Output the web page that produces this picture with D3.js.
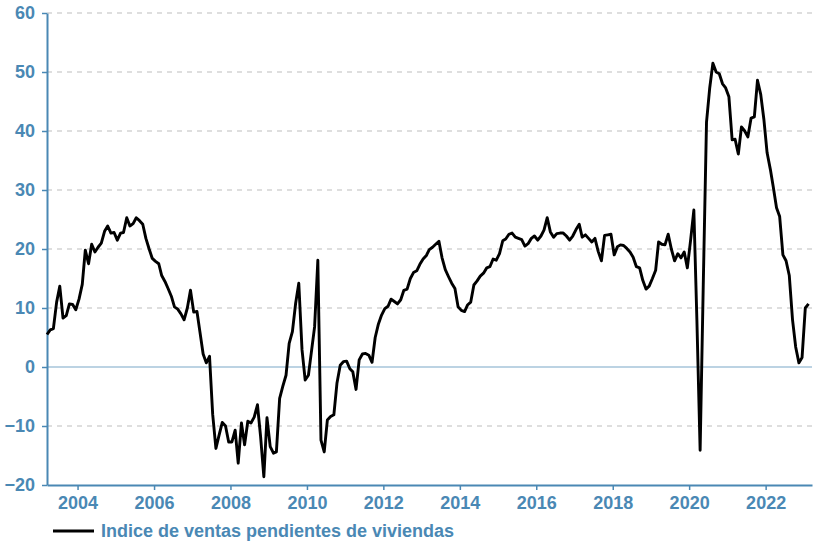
<!DOCTYPE html>
<html>
<head>
<meta charset="utf-8">
<script src="https://cdn.jsdelivr.net/npm/d3@7"></script>
<style>
  body { margin: 0; background: #fff; }
  svg { display: block; font-family: "Liberation Sans", Arial, sans-serif; }
</style>
</head>
<body>
<svg width="824" height="544"></svg>
<script>
// eerste maand van de reeks (maart 2003), daarna maandelijks
var startMonth = new Date(2003, 2, 15);

// jaar-op-jaar verandering, per maand
var values = [
  5.5, 6.3, 6.5, 11, 13.7, 8.3, 8.7, 10.7, 10.6, 9.7,                  // 2003 (mrt-dec)
  11.5, 14, 19.8, 17.5, 20.8, 19.5, 20.3, 21, 23, 23.9, 22.7, 22.8,    // 2004
  21.5, 22.7, 22.8, 25.3, 23.9, 24.3, 25.3, 24.8, 24.2, 21.8, 20, 18.4, // 2005
  17.9, 17.5, 15.5, 14.5, 13.3, 12, 10.2, 9.8, 9, 8, 10, 13,           // 2006
  9.3, 9.4, 6, 2.2, 0.7, 1.8, -8, -13.8, -11.5, -9.4, -10, -12.7,      // 2007
  -12.7, -10.7, -16.3, -9.5, -13.2, -9.2, -9.5, -8.5, -6.4, -11.8, -18.6, -8.6, // 2008
  -13.5, -14.6, -14.4, -5.3, -3.3, -1.4, 4, 6, 10.8, 14.2, 2.9, -2.2,  // 2009
  -1.4, 2.9, 6.8, 18.1, -12.4, -14.4, -9, -8.4, -8.1, -2.7, 0.3, 0.9,  // 2010
  1.0, -0.3, -0.8, -3.8, 1.2, 2.2, 2.3, 2.0, 0.8, 5, 7.3, 8.8,         // 2011
  9.9, 10.3, 11.5, 11.1, 10.7, 11.4, 13, 13.2, 15, 16, 16.3, 17.4,     // 2012
  18.3, 18.9, 19.9, 20.3, 20.8, 21.3, 18.5, 16.5, 15.3, 14.2, 13.3, 10.2, // 2013
  9.6, 9.4, 10.5, 11, 13.9, 14.6, 15.4, 15.9, 16.8, 17, 18.3, 18.1,    // 2014
  19.2, 21.4, 21.7, 22.5, 22.7, 22, 21.8, 21.6, 20.5, 20.9, 21.8, 22.2, // 2015
  21.5, 22.2, 23.2, 25.3, 22.9, 22, 22.6, 22.7, 22.7, 22.2, 21.5, 22.2, // 2016
  23.3, 24.2, 22, 22.4, 21.8, 21.2, 21.8, 19.6, 18, 22.3, 22.4, 22.5,  // 2017
  19, 20.4, 20.7, 20.6, 20.1, 19.5, 18.6, 17, 16.8, 14.7, 13.2, 13.7,  // 2018
  15, 16.4, 21.2, 20.8, 20.7, 22.5, 20, 18, 19.2, 18.5, 19.5, 16.8,    // 2019
  21.5, 26.6, 8, -14.1, 14, 41.5, 47.2, 51.5, 50, 49.7, 48, 47.3,      // 2020
  45.8, 38.5, 38.6, 36.1, 40.7, 40, 39, 42.2, 42.4, 48.6, 46.2, 42,    // 2021
  36.3, 33.5, 30.5, 27, 25.5, 19, 18, 15.5, 8, 3.4, 0.7, 1.6,          // 2022
  10, 10.7                                                            // 2023 (jan-feb)
];

var yTicks = [-20, -10, 0, 10, 20, 30, 40, 50, 60];
var xTickYears = [2004, 2006, 2008, 2010, 2012, 2014, 2016, 2018, 2020, 2022];
var legendLabel = "Indice de ventas pendientes de viviendas";

// let op: "top" is een gereserveerde globale naam, dus alles in een object
var blue = "#4a88b4",
    svg = d3.select("svg"),
    margin = { left: 47, right: 812, top: 13, bottom: 485 };

var data = values.map(function(v, i) {
  return { date: d3.timeMonth.offset(startMonth, i), value: v };
});

var x = d3.scaleTime()
    .domain([new Date(2003, 2, 15), new Date(2023, 2, 20)])
    .range([margin.left, margin.right]);
var y = d3.scaleLinear().domain([-20, 60]).range([margin.bottom, margin.top]);

// gestreepte rasterlijnen
svg.append("g")
  .selectAll("line")
  .data(yTicks.filter(function(d) { return d !== 0 && d !== -20; }))
  .enter().append("line")
    .attr("x1", margin.left).attr("x2", margin.right)
    .attr("y1", function(d) { return y(d); })
    .attr("y2", function(d) { return y(d); })
    .style("stroke", "#d4d4d4")
    .style("stroke-width", 1.3)
    .style("stroke-dasharray", "5,5");

// nullijn
svg.append("line")
  .attr("x1", margin.left).attr("x2", margin.right)
  .attr("y1", y(0)).attr("y2", y(0))
  .style("stroke", "#7aa7c7")
  .style("stroke-width", 1.2);

// y-as
var yAxis = svg.append("g")
  .attr("transform", "translate(" + margin.left + ",0)")
  .call(d3.axisLeft(y).tickValues(yTicks).tickSize(5).tickSizeOuter(0).tickPadding(7));

// x-as
var xAxis = svg.append("g")
  .attr("transform", "translate(0," + margin.bottom + ")")
  .call(d3.axisBottom(x)
    .tickValues(xTickYears.map(function(yr) { return new Date(yr, 0, 1); }))
    .tickFormat(d3.timeFormat("%Y"))
    .tickSize(5).tickSizeOuter(0).tickPadding(6));

[yAxis, xAxis].forEach(function(ax) {
  ax.select(".domain").style("stroke", blue).style("stroke-width", 2);
  ax.selectAll(".tick line").style("stroke", blue).style("stroke-width", 1.5);
  ax.selectAll(".tick text")
    .style("fill", blue)
    .style("font-size", "18px")
    .style("font-weight", "bold")
    .style("font-family", "'Liberation Sans', Arial, sans-serif");
});

// de lijn zelf
var line = d3.line()
  .x(function(d) { return x(d.date); })
  .y(function(d) { return y(d.value); });

svg.append("path")
  .datum(data)
  .attr("d", line)
  .style("fill", "none")
  .style("stroke", "#000")
  .style("stroke-width", 2.9)
  .style("stroke-linejoin", "round");

// legenda
svg.append("line")
  .attr("x1", 53).attr("x2", 94)
  .attr("y1", 531).attr("y2", 531)
  .style("stroke", "#000")
  .style("stroke-width", 3);

svg.append("text")
  .attr("x", 101)
  .attr("y", 537)
  .style("fill", blue)
  .style("font-size", "18px")
  .style("font-weight", "bold")
  .text(legendLabel);
</script>
</body>
</html>
